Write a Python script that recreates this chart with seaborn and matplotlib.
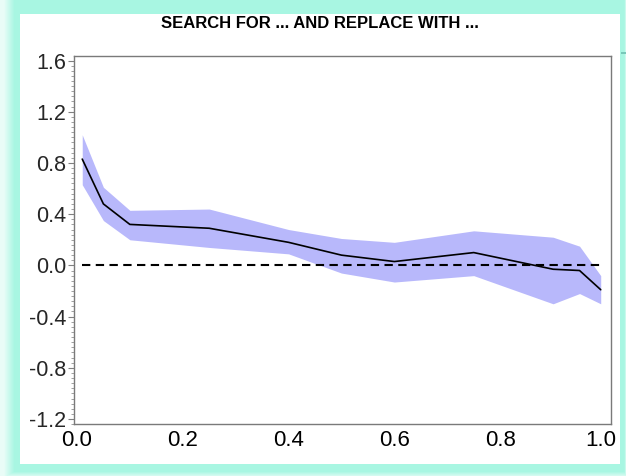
import numpy as np
import pandas as pd
import matplotlib
matplotlib.use("Agg")
import matplotlib.pyplot as plt
import matplotlib.transforms as mtransforms
from matplotlib.ticker import MultipleLocator, FixedLocator
import seaborn as sns

# Estimated effect across the quantile grid, with its confidence band
quantile = [0.01, 0.05, 0.10, 0.25, 0.40, 0.50, 0.60, 0.75, 0.90, 0.95, 0.99]
estimate = [0.83, 0.48, 0.32, 0.29, 0.18, 0.08, 0.03, 0.10, -0.03, -0.04, -0.19]
upper = [1.02, 0.61, 0.43, 0.44, 0.28, 0.21, 0.18, 0.27, 0.22, 0.15, -0.08]
lower = [0.63, 0.35, 0.20, 0.14, 0.09, -0.06, -0.13, -0.08, -0.30, -0.22, -0.30]

y_ticks = [-1.2, -0.8, -0.4, 0.0, 0.4, 0.8, 1.2, 1.6]
y_tick_labels = ["-1.2", "-0.8", "-0.4", "0.0", "0.4", "0.8", "1.2", "1.6"]
x_ticks = [0.0, 0.2, 0.4, 0.6, 0.8, 1.0]
x_tick_labels = ["0.0", "0.2", "0.4", "0.6", "0.8", "1.0"]
title = "SEARCH FOR ... AND REPLACE WITH ..."

df = pd.DataFrame({"quantile": quantile, "estimate": estimate,
                   "upper": upper, "lower": lower})

sns.set_style("white")
plt.rcParams["font.family"] = ["Liberation Sans", "DejaVu Sans"]

W, H = 626, 476
fig = plt.figure(figsize=(W / 100, H / 100), dpi=100)

# Framed backdrop: aquamarine border with a soft fade, white panel inside
bg = fig.add_axes([0, 0, 1, 1], zorder=-10)
bg.set_axis_off()
aqua = np.array([168, 246, 226]) / 255.0
white = np.ones(3)
yy, xx = np.mgrid[0:H, 0:W]
fade = np.clip(xx / 14.0, 0.25, 1.0)
fade = np.minimum(fade, np.clip((W - 1 - xx) / 3.0 + 0.6, 0.6, 1.0))
fade = np.minimum(fade, np.clip((H - 1 - yy) / 8.0 + 0.5, 0.5, 1.0))
img = white[None, None, :] * (1 - fade[..., None]) + aqua[None, None, :] * fade[..., None]
panel = (xx >= 20) & (xx <= 619) & (yy >= 14) & (yy <= 463)
img[panel] = white
img[52:54, 621:626] = np.array([120, 200, 185]) / 255.0
bg.imshow(img, extent=(0, W, H, 0), aspect="auto", interpolation="nearest")
bg.set_xlim(0, W)
bg.set_ylim(H, 0)

left, right = 74.3 / W, 611.3 / W
top, bottom = 1 - 55.7 / H, 1 - 424.3 / H
ax = fig.add_axes([left, bottom, right - left, top - bottom])
ax.set_facecolor("white")

ax.fill_between(df["quantile"], df["lower"], df["upper"],
                color="#b8b8fb", linewidth=0, zorder=1)
sns.lineplot(data=df, x="quantile", y="estimate", ax=ax, color="black",
             linewidth=1.2, zorder=3)
zero = [0.0 for _ in quantile]
ax.plot([quantile[0], quantile[-1]], [zero[0], zero[-1]], color="black",
        linewidth=1.5, dashes=(4, 2.6), zorder=2)

ax.set_xlim(-0.005, 1.01)
ax.set_ylim(-1.241, 1.6375)
ax.xaxis.set_major_locator(FixedLocator(x_ticks))
ax.set_xticklabels(x_tick_labels, fontsize=16)
ax.yaxis.set_major_locator(FixedLocator(y_ticks))
ax.set_yticklabels(y_tick_labels, fontsize=15.5)
ax.yaxis.set_minor_locator(MultipleLocator(0.04))
ax.tick_params(axis="x", which="both", length=0, pad=4, colors="black")
ax.tick_params(axis="y", which="major", length=4, width=0.8, color="#808080",
               pad=2, left=True, direction="out")
ax.tick_params(axis="y", which="minor", length=2, width=0.6, color="#909090",
               left=True, direction="out")
ax.set_xlabel("")
ax.set_ylabel("")
for s in ax.spines.values():
    s.set_color("#7a7a7a")
    s.set_linewidth(1.0)

# keep the last x label inside the white panel
last = ax.get_xticklabels()[-1]
last.set_transform(last.get_transform() +
                   mtransforms.ScaledTranslation(-5 / 100, 0, fig.dpi_scale_trans))

fig.text(320 / W, 1 - 23 / H, title, ha="center", va="center",
         fontsize=12, fontweight="bold", color="black")

fig.savefig("out.png", dpi=100)
